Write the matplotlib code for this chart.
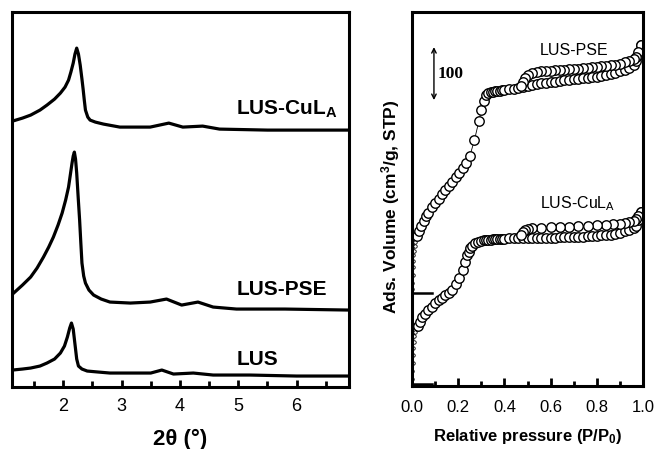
import numpy as np
import matplotlib
matplotlib.use("Agg")
import matplotlib.pyplot as plt
from matplotlib.ticker import MultipleLocator

plt.rcParams['font.family'] = ['Liberation Sans', 'DejaVu Sans']
plt.rcParams['mathtext.default'] = 'regular'

# ---- XRD patterns (2theta in degrees, intensity in arb. units) ----
lus_x = [1.13, 1.3, 1.44, 1.6, 1.72, 1.85, 1.95, 2.02, 2.07, 2.11, 2.14, 2.17, 2.19,
         2.21, 2.23, 2.26, 2.32, 2.41, 2.6, 2.80, 3.15, 3.50, 3.69, 3.89, 4.23, 4.57,
         5.2, 6.0, 6.9]
lus_y = [17, 18, 19, 21, 24, 28, 34, 41, 50, 59, 64, 58, 48, 38, 28, 21, 18, 16, 15,
         14, 14, 14, 17, 13, 14, 12, 12, 11, 11]

pse_x = [1.13, 1.3, 1.44, 1.55, 1.66, 1.75, 1.83, 1.91, 1.98, 2.04, 2.09, 2.12, 2.15,
         2.17, 2.19, 2.21, 2.23, 2.255, 2.28, 2.30, 2.32, 2.35, 2.38, 2.44, 2.52, 2.65,
         2.80, 3.15, 3.49, 3.77, 4.03, 4.31, 4.57, 4.97, 5.8, 6.9]
pse_y = [93, 102, 110, 119, 130, 140, 150, 162, 174, 187, 200, 212, 224, 231, 235, 228,
         214, 190, 167, 145, 124, 111, 104, 97, 92, 88, 85, 84, 85, 88, 82, 85, 80, 78,
         78, 77]

cul_x = [1.13, 1.3, 1.44, 1.6, 1.72, 1.85, 1.95, 2.03, 2.09, 2.13, 2.17, 2.20, 2.23,
         2.26, 2.29, 2.32, 2.34, 2.36, 2.38, 2.42, 2.46, 2.55, 2.69, 2.97, 3.15, 3.49,
         3.81, 4.05, 4.39, 4.68, 5.5, 6.9]
cul_y = [266, 269, 272, 277, 282, 288, 294, 300, 307, 315, 324, 333, 339, 333, 322, 308,
         298, 287, 277, 270, 267, 265, 263, 260, 260, 260, 264, 260, 261, 258, 257, 257]

xrd_labels = ['LUS', 'LUS-PSE', 'LUS-CuL$_A$']

# ---- N2 isotherms (P/P0, cm3/g STP above each curve's own zero) ----
pse_offset = 175
cul_offset = 4

pse_low_p = [0.001, 0.002, 0.003, 0.004, 0.005, 0.006, 0.008, 0.011, 0.015]
pse_low_v = [8, 20, 35, 50, 62, 72, 80, 90, 98]
pse_ads_p = [0.022, 0.03, 0.04, 0.05, 0.06, 0.07, 0.085, 0.10, 0.115, 0.13, 0.145, 0.16,
             0.175, 0.19, 0.205, 0.22, 0.235, 0.25, 0.27, 0.29, 0.30, 0.31, 0.32, 0.33,
             0.34, 0.35, 0.36, 0.37, 0.38, 0.39, 0.40, 0.42, 0.44, 0.46, 0.48, 0.50, 0.52,
             0.54, 0.56, 0.58, 0.60, 0.62, 0.64, 0.66, 0.68, 0.70, 0.72, 0.74, 0.76, 0.78,
             0.80, 0.82, 0.84, 0.86, 0.88, 0.90, 0.92, 0.94, 0.96, 0.97, 0.98, 0.99]
pse_ads_v = [108, 118, 128, 137, 146, 152, 163, 171, 179, 187, 195, 203, 211, 219, 228,
             237, 247, 259, 289, 326, 346, 364, 374, 378, 380, 381, 382, 383, 383, 384,
             384, 385, 386, 388, 390, 392, 394, 396, 397, 398, 399, 400, 401, 402, 403,
             404, 405, 406, 407, 408, 409, 411, 413, 415, 417, 419, 422, 426, 432, 438,
             450, 468]
pse_des_p = [0.99, 0.98, 0.97, 0.96, 0.94, 0.92, 0.90, 0.88, 0.86, 0.84, 0.82, 0.80, 0.78,
             0.76, 0.74, 0.72, 0.70, 0.68, 0.66, 0.64, 0.62, 0.60, 0.58, 0.56, 0.54, 0.52,
             0.50, 0.49, 0.48, 0.47]
pse_des_v = [468, 455, 447, 442, 438, 436, 434, 432, 431, 430, 429, 428, 427, 426, 425,
             424, 424, 423, 422, 422, 421, 420, 420, 419, 418, 416, 412, 406, 400, 392]

cul_low_p = [0.001, 0.002, 0.003, 0.004, 0.005, 0.007, 0.010, 0.014, 0.020]
cul_low_v = [10, 25, 40, 55, 68, 80, 90, 98, 104]
cul_ads_p = [0.027, 0.035, 0.045, 0.056, 0.07, 0.085, 0.10, 0.115, 0.13, 0.145, 0.16,
             0.175, 0.19, 0.205, 0.22, 0.23, 0.237, 0.245, 0.251, 0.26, 0.273, 0.285, 0.30,
             0.31, 0.32, 0.33, 0.34, 0.35, 0.36, 0.37, 0.38, 0.39, 0.40, 0.42, 0.44, 0.46,
             0.48, 0.50, 0.52, 0.54, 0.56, 0.58, 0.60, 0.62, 0.64, 0.66, 0.68, 0.70, 0.72,
             0.74, 0.76, 0.78, 0.80, 0.82, 0.84, 0.86, 0.88, 0.90, 0.92, 0.94, 0.96, 0.97,
             0.98, 0.99]
cul_ads_v = [110, 118, 126, 133, 140, 146, 152, 158, 163, 168, 172, 178, 188, 200, 216,
             230, 243, 250, 256, 261, 266, 268, 270, 271, 271, 272, 272, 273, 273, 273,
             274, 274, 274, 275, 275, 275, 275, 275, 275, 276, 276, 276, 276, 276, 277,
             277, 277, 278, 278, 278, 279, 279, 280, 281, 281, 282, 284, 285, 288, 290,
             294, 299, 309, 325]
cul_des_p = [0.99, 0.98, 0.97, 0.96, 0.94, 0.92, 0.90, 0.87, 0.84, 0.80, 0.76, 0.72, 0.68,
             0.64, 0.60, 0.56, 0.52, 0.50, 0.49, 0.48, 0.47]
cul_des_v = [325, 318, 312, 308, 305, 304, 303, 302, 301, 300, 299, 298, 297, 297, 296,
             295, 294, 292, 290, 287, 281]

fig = plt.figure(figsize=(6.55, 4.49), dpi=100)

# ---------------- left: XRD ----------------
ax1 = fig.add_axes([0.0183, 0.138, 0.5145, 0.835])
for xs, ys in [(lus_x, lus_y), (pse_x, pse_y), (cul_x, cul_y)]:
    ax1.plot(xs, ys, color='black', lw=2.3, solid_joinstyle='round')
ax1.set_xlim(1.12, 6.9)
ax1.set_ylim(0, 375)
ax1.set_yticks([])
ax1.xaxis.set_major_locator(MultipleLocator(1))
ax1.xaxis.set_minor_locator(MultipleLocator(0.5))
ax1.tick_params(axis='x', which='both', direction='in', width=2, labelsize=13, pad=8)
ax1.tick_params(axis='x', which='major', length=5)
ax1.tick_params(axis='x', which='minor', length=4)
for sp in ax1.spines.values():
    sp.set_linewidth(2.2)
ax1.set_xlabel('2θ (°)', fontsize=16, fontweight='bold')
ax1.xaxis.set_label_coords(0.5, -0.112)

ax1.text(4.97, 22, xrd_labels[0], fontsize=15, fontweight='bold', va='baseline')
ax1.text(4.97, 92, xrd_labels[1], fontsize=15, fontweight='bold', va='baseline')
ax1.text(4.97, 272, xrd_labels[2], fontsize=15, fontweight='bold', va='baseline')

# ---------------- right: isotherms ----------------
ax2 = fig.add_axes([0.629, 0.140, 0.3527, 0.833])
mk = dict(marker='o', ms=6.8, mfc='white', mec='black', mew=1.0, color='black', lw=0.6)
for off, lp, lv, ap, av, dp, dv in [
        (cul_offset, cul_low_p, cul_low_v, cul_ads_p, cul_ads_v, cul_des_p, cul_des_v),
        (pse_offset, pse_low_p, pse_low_v, pse_ads_p, pse_ads_v, pse_des_p, pse_des_v)]:
    ax2.plot([0, 0.085], [off, off], color='black', lw=1.8)
    ax2.plot(lp, np.array(lv) + off, marker='o', ms=2.5, mfc='white', mec='black',
             mew=0.6, color='black', lw=0.6)
    ax2.plot(ap, np.array(av) + off, **mk)
    ax2.plot(dp, np.array(dv) + off, **mk)

ax2.set_xlim(0, 1.0)
ax2.set_ylim(0, 706)
ax2.set_yticks([])
ax2.xaxis.set_major_locator(MultipleLocator(0.2))
ax2.xaxis.set_minor_locator(MultipleLocator(0.1))
ax2.tick_params(axis='x', which='both', direction='in', width=2, labelsize=12, pad=10)
ax2.tick_params(axis='x', which='major', length=6)
ax2.tick_params(axis='x', which='minor', length=3.5)
for sp in ax2.spines.values():
    sp.set_linewidth(2.2)
ax2.set_xlabel('Relative pressure (P/P$_0$)', fontsize=12, fontweight='bold')
ax2.xaxis.set_label_coords(0.5, -0.11)
ax2.set_ylabel('Ads. Volume (cm$^3$/g, STP)', fontsize=12.5, fontweight='bold')
ax2.yaxis.set_label_coords(-0.045, 0.478)

ax2.annotate('', xy=(0.095, 540), xytext=(0.095, 640),
             arrowprops=dict(arrowstyle='<->', lw=1.0, color='black',
                             shrinkA=0, shrinkB=0, mutation_scale=8))
ax2.text(0.11, 590, '100', fontsize=12.5, fontweight='bold', va='center',
         family='Liberation Serif')
ax2.text(0.554, 625, 'LUS-PSE', fontsize=11.5, va='baseline')
ax2.text(0.554, 336, 'LUS-CuL$_A$', fontsize=11.5, va='baseline')

fig.savefig('out.png', dpi=100)
